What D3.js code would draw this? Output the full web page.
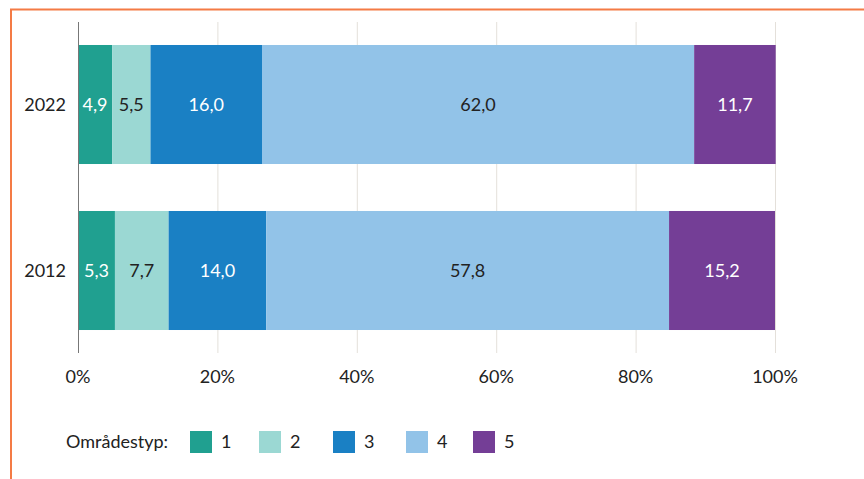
<!DOCTYPE html>
<html>
<head>
<meta charset="utf-8">
<script src="https://cdn.jsdelivr.net/npm/d3@7"></script>
<style>
  html, body { margin: 0; padding: 0; background: #fff; }
  svg text { font-family: "Lato", "Noto Sans", sans-serif; }
</style>
</head>
<body>
<svg id="chart" width="864" height="479"></svg>
<script>
// Share of area types per year (percent)
const years = ["2022", "2012"];
const types = ["1", "2", "3", "4", "5"];
const values2022 = [4.9, 5.5, 16.0, 62.0, 11.7];
const values2012 = [5.3, 7.7, 14.0, 57.8, 15.2];
const tickValues = [0, 20, 40, 60, 80, 100];
const colors = ["#20a090", "#9bd8d3", "#1a80c4", "#92c3e8", "#743e96"];
const labelColors = ["#ffffff", "#222222", "#ffffff", "#222222", "#ffffff"];
const legendTitle = "Områdestyp:";

const rows = [
  { year: years[0], values: values2022 },
  { year: years[1], values: values2012 }
];

const svg = d3.select("#chart");
const fs = 18;

// frame lines
svg.append("line").attr("x1", 10).attr("x2", 864).attr("y1", 9.5).attr("y2", 9.5)
  .attr("stroke", "#f47b45").attr("stroke-width", 2);
svg.append("line").attr("x1", 11).attr("x2", 11).attr("y1", 9).attr("y2", 479)
  .attr("stroke", "#f47b45").attr("stroke-width", 2);

const x = d3.scaleLinear().domain([0, 100]).range([78, 775]);
const y = d3.scaleBand().domain(years).range([22, 353]).paddingInner(0.283).paddingOuter(0.1385);

// gridlines
svg.append("g").selectAll("line").data(tickValues.slice(1)).join("line")
  .attr("x1", d => x(d) + 0.5).attr("x2", d => x(d) + 0.5)
  .attr("y1", 22).attr("y2", 353)
  .attr("stroke", "#e4e0da").attr("stroke-width", 1);

// bars
rows.forEach(row => {
  let cum = 0;
  const segs = row.values.map((v, i) => {
    const s = { start: cum, end: cum + v, v, i };
    cum += v;
    return s;
  });
  const g = svg.append("g");
  g.selectAll("rect").data(segs).join("rect")
    .attr("x", d => x(d.start))
    .attr("width", d => x(d.end) - x(d.start))
    .attr("y", y(row.year))
    .attr("height", y.bandwidth())
    .attr("fill", d => colors[d.i]);
  g.selectAll("text").data(segs).join("text")
    .attr("x", d => (x(d.start) + x(d.end)) / 2)
    .attr("y", y(row.year) + y.bandwidth() / 2)
    .attr("dy", "0.35em")
    .attr("text-anchor", "middle")
    .attr("font-size", fs)
    .attr("fill", d => labelColors[d.i])
    .text(d => d.v.toFixed(1).replace(".", ","));
});

// y axis line
svg.append("line").attr("x1", 78.5).attr("x2", 78.5).attr("y1", 22).attr("y2", 353)
  .attr("stroke", "#777").attr("stroke-width", 1);

// y labels
svg.append("g").selectAll("text").data(years).join("text")
  .attr("x", 66)
  .attr("y", d => y(d) + y.bandwidth() / 2)
  .attr("dy", "0.35em")
  .attr("text-anchor", "end")
  .attr("font-size", fs)
  .attr("fill", "#222")
  .text(d => d);

// x tick labels
svg.append("g").selectAll("text").data(tickValues).join("text")
  .attr("x", d => x(d))
  .attr("y", 377)
  .attr("dy", "0.35em")
  .attr("text-anchor", "middle")
  .attr("font-size", fs)
  .attr("fill", "#222")
  .text(d => d + "%");

// legend
const legend = svg.append("g");
legend.append("text").attr("x", 66).attr("y", 442).attr("dy", "0.35em")
  .attr("font-size", fs).attr("fill", "#222").text(legendTitle);
const legendX = [190, 259, 333, 406, 473];
const items = legend.selectAll("g.item").data(types).join("g").attr("class", "item")
  .attr("transform", (d, i) => `translate(${legendX[i]},431)`);
items.append("rect").attr("width", 22).attr("height", 22).attr("fill", (d, i) => colors[i]);
items.append("text").attr("x", 31).attr("y", 11).attr("dy", "0.35em")
  .attr("font-size", fs).attr("fill", "#222").text(d => d);
</script>
</body>
</html>
